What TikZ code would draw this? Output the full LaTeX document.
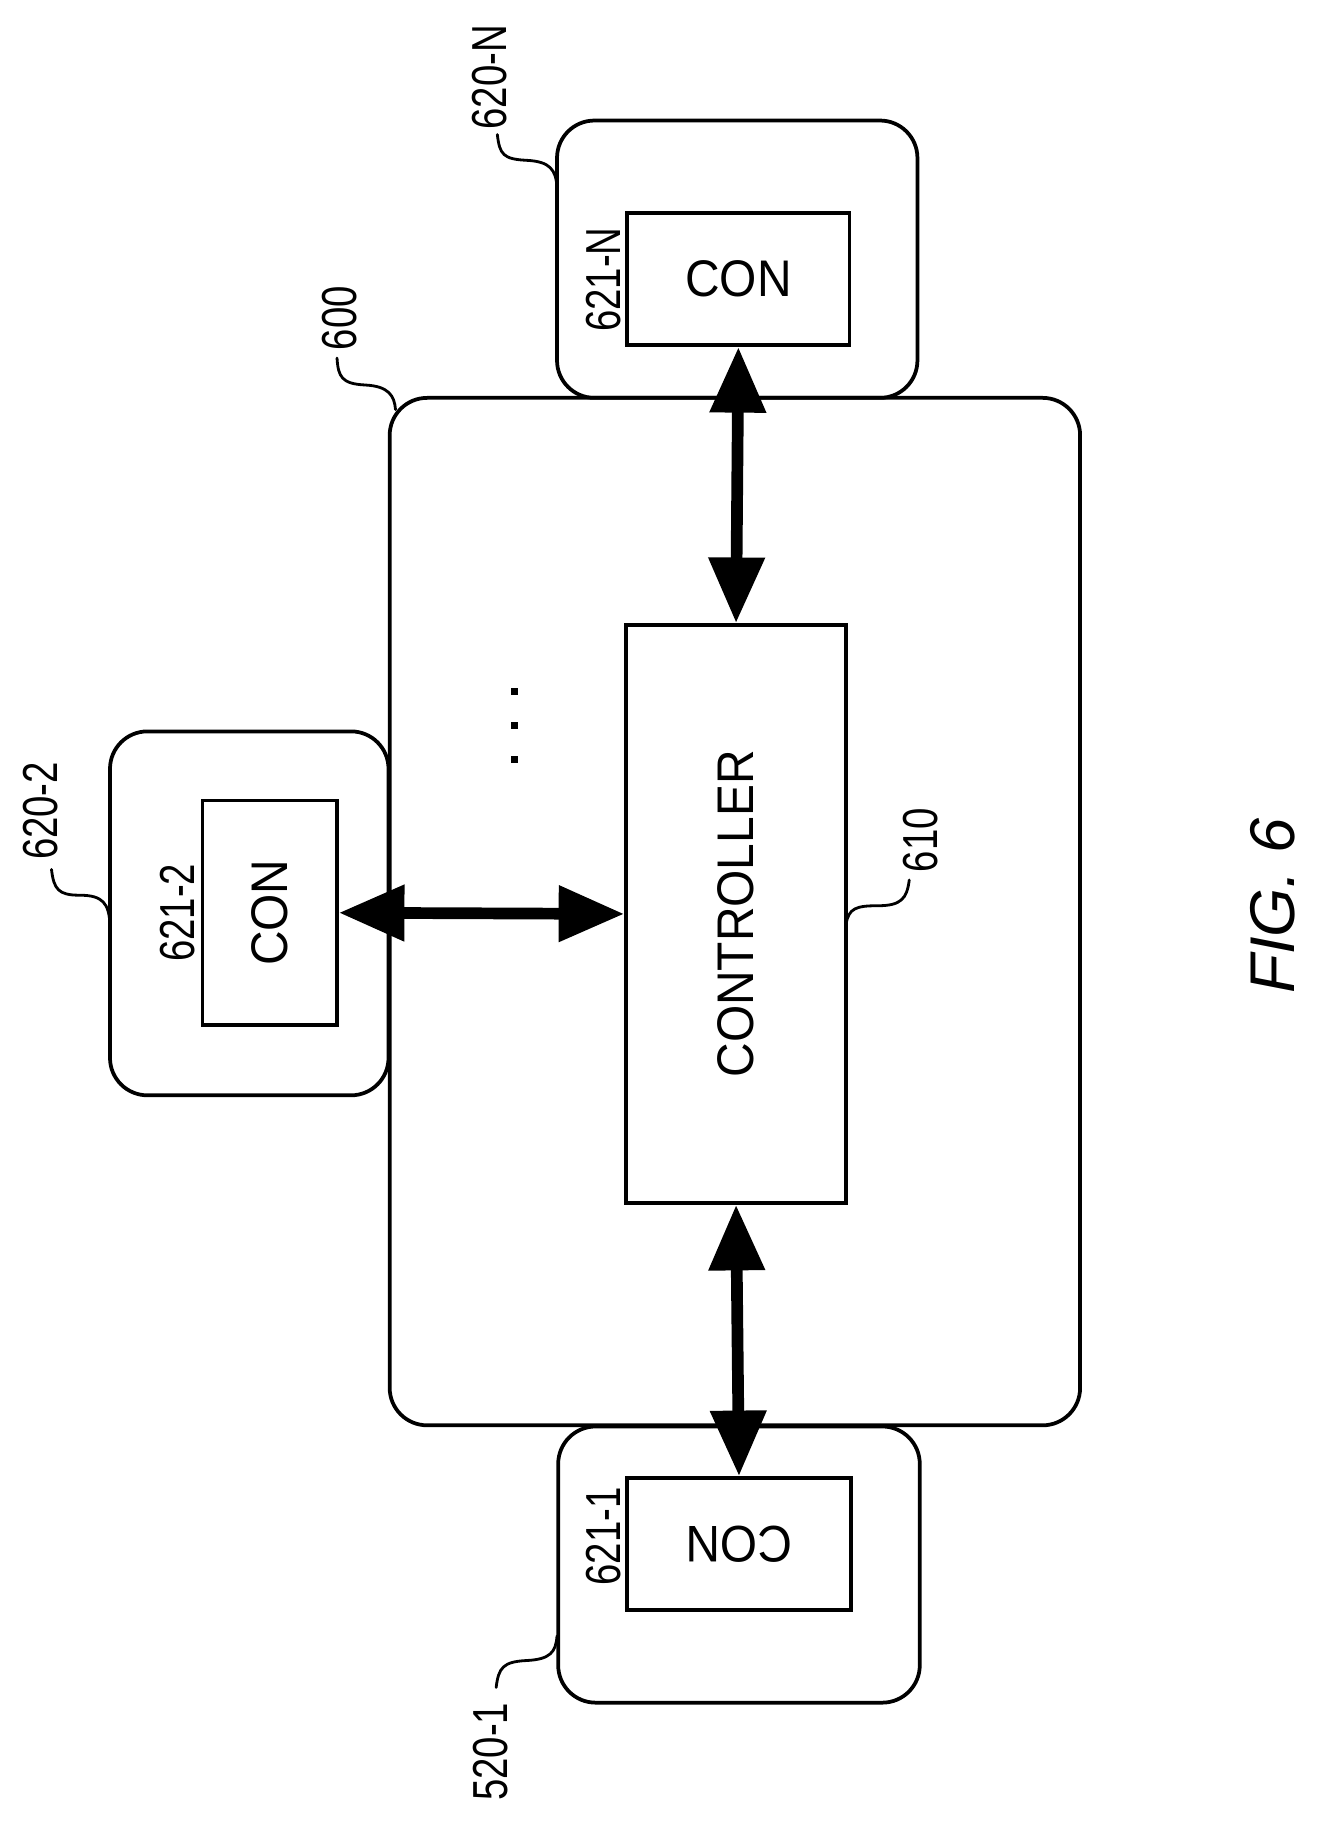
\documentclass[tikz,border=0pt]{standalone}
\usepackage{fontspec}
\setmainfont{Liberation Sans}
\newfontfamily\narrowsans[FakeStretch=0.78]{Liberation Sans}
\newfontfamily\boxsans[FakeStretch=0.93]{Liberation Sans}
\usetikzlibrary{arrows.meta,positioning}
\begin{document}
\begin{tikzpicture}[x=1pt,y=-1pt,
    outer/.style={draw, line width=3.2pt, rounded corners=32pt, inner sep=0pt},
    inner/.style={draw, line width=3.2pt, inner sep=0pt},
    txt/.style={font=\boxsans\fontsize{44}{44}\selectfont},
    num/.style={font=\narrowsans\fontsize{42}{42}\selectfont, inner sep=0pt, rotate=90},
    link/.style={line width=10pt, {Triangle[length=56pt,width=46pt]}-{Triangle[length=56pt,width=46pt]}},
    lead/.style={line width=2.4pt, line cap=round}]
    \useasboundingbox (0,0) rectangle (1140,1557);

    % Outer boxes
    \node[outer, minimum width=590pt, minimum height=878pt] (dev) at (628,779) {};
    \node[outer, minimum width=308pt, minimum height=237pt] (unitN) at (630,221.5) {};
    \node[outer, minimum width=238pt, minimum height=311pt] (unit2) at (213,780.5) {};
    \node[outer, minimum width=309pt, minimum height=236pt] (unit1) at (631.5,1337) {};

    % Controller and connectors
    \node[inner, minimum width=188pt, minimum height=494pt] (ctrl) at (629,781) {};
    \node[txt, rotate=90] at (ctrl) {CONTROLLER};
    \node[inner, minimum width=190pt, minimum height=113pt] (conN) at (631,238.5) {};
    \node[txt] at (conN) {CON};
    \node[inner, minimum width=115pt, minimum height=192pt] (con2) at (230.5,780) {};
    \node[txt, rotate=90] at (con2) {CON};
    \node[inner, minimum width=191pt, minimum height=113pt] (con1) at (631.5,1319.5) {};
    \node[txt, rotate=180] at (con1) {CON};

    % Connector labels
    \node[num] (lN) at (516,239) {621-N};
    \node[num] (l2) at (152,780) {621-2};
    \node[num] (l1) at (516,1313) {621-1};

    % Dots
    \foreach \y in {591,620,649}
        \fill (437,\y-3) rectangle +(6,6);

    % Links
    \draw[link] (conN.south) -- (ctrl.north);
    \draw[link] (con2.east) -- (ctrl.west);
    \draw[link] (ctrl.south) -- (con1.north);

    % Reference numerals
    \node[num] (r600) at (290,272) {600};
    \draw[lead] (288,306) .. controls (289,322) and (292,328) .. (312,329)
        .. controls (332,330) and (337,338) .. (338,350);
    \node[num] (rN) at (418,66) {620-N};
    \draw[lead] (425,115) .. controls (427,132) and (430,136) .. (450,137)
        .. controls (470,138) and (475,145) .. (476,160);
    \node[num] (r2) at (35,693) {620-2};
    \draw[lead] (44,743) .. controls (46,760) and (50,765) .. (68,765)
        .. controls (88,765) and (93,772) .. (94,790);
    \node[num] (r1) at (419,1497) {520-1};
    \draw[lead] (424,1442) .. controls (426,1425) and (430,1420) .. (450,1419)
        .. controls (470,1418) and (475,1412) .. (476,1398);
    \node[num] (r610) at (787,718) {610};
    \draw[lead] (723,790) .. controls (725,776) and (732,774) .. (750,774)
        .. controls (770,774) and (775,768) .. (777,752);

    \node[font=\rmfamily\itshape\fontsize{54}{54}\selectfont, rotate=90] (fig) at (1088,774) {FIG. 6};
\end{tikzpicture}
\end{document}
